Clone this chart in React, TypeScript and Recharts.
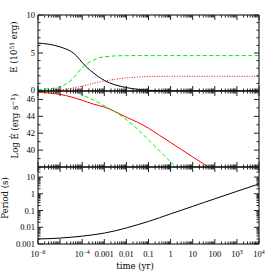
import React from 'react';
import { LineChart, Line, XAxis, YAxis } from 'recharts';

const W = 274;
const H = 274;
const FONT = 'DejaVu Serif';
const TICK_FONT = 'Liberation Serif';
const TICK_SIZE = 8.5;
const PLOT_LEFT = 38;
const PLOT_RIGHT = 259;

// ---- X axis (time, yr) ----
const xMajorTicks = [1e-6, 1e-5, 1e-4, 1e-3, 1e-2, 0.1, 1, 10, 100, 1e3, 1e4];
const xTickLabels = ['10^−6', '', '10^−4', '0.001', '0.01', '0.1', '1', '10', '100', '10^3', '10^4'];
const minorMult = [2, 3, 4, 5, 6, 7, 8, 9];
const xAllTicks: number[] = [];
xMajorTicks.forEach((m, i) => {
  xAllTicks.push(m);
  if (i < xMajorTicks.length - 1) minorMult.forEach((k) => xAllTicks.push(m * k));
});

// ---- Panel 1: energies (10^51 erg) ----
const tE = [1e-6, 3.16e-6, 1e-5, 1.78e-5, 3.16e-5, 5.62e-5, 1e-4, 1.78e-4, 3.16e-4, 5.62e-4, 1e-3, 1.78e-3, 3.16e-3, 1e-2, 3.16e-2, 0.1, 0.316, 1, 10, 100, 1000, 1e4];
const eRot = [6.3, 6.15, 5.8, 5.55, 5.2, 4.6, 3.75, 3.0, 2.4, 1.85, 1.4, 1.05, 0.8, 0.45, 0.22, 0.09, 0.03, 0.01, 0, 0, 0, 0];
const eKin = [0.2, 0.3, 0.55, 0.9, 1.4, 2.2, 3.1, 3.65, 4.05, 4.35, 4.5, 4.57, 4.62, 4.65, 4.66, 4.66, 4.66, 4.66, 4.66, 4.66, 4.66, 4.66];
const eRad = [0.02, 0.06, 0.15, 0.24, 0.35, 0.5, 0.65, 0.83, 1.0, 1.16, 1.3, 1.43, 1.55, 1.72, 1.83, 1.9, 1.93, 1.94, 1.94, 1.94, 1.94, 1.94];
const eTicks = [0, 1, 2, 3, 4, 5, 6, 7, 8, 9, 10];
const eLabels = [0, 5, 10];

// ---- Panel 2: log Edot (erg/s) ----
const tL = [1e-6, 3.16e-6, 1e-5, 3.16e-5, 1e-4, 3.16e-4, 1e-3, 3.16e-3, 1e-2, 3.16e-2, 0.1, 0.316, 1, 3.16, 10, 31.6, 100];
const lumRed = [46.85, 46.77, 46.6, 46.3, 45.9, 45.45, 45.1, 44.55, 43.9, 43.3, 42.6, 41.75, 40.9, 40.05, 39.2, 38.35, 37.5];
const lumGreen = [49.1, 48.5, 47.9, 47.25, 46.55, 45.95, 45.25, 44.5, 43.6, 42.5, 41.2, 39.9, 38.6, 37.3, 36.0, 34.7, 33.4];
const lTicks = [38, 39, 40, 41, 42, 43, 44, 45, 46, 47];
const lLabels = [40, 42, 44, 46];

// ---- Panel 3: period (s) ----
const tP = [1e-6, 3.16e-6, 1e-5, 3.16e-5, 1e-4, 3.16e-4, 1e-3, 3.16e-3, 1e-2, 3.16e-2, 0.1, 0.316, 1, 3.16, 10, 31.6, 100, 316, 1000, 3160, 1e4];
const period = [0.002, 0.00209, 0.00226, 0.00254, 0.00295, 0.00355, 0.00447, 0.00617, 0.00912, 0.0141, 0.0224, 0.0372, 0.0631, 0.106, 0.178, 0.299, 0.501, 0.841, 1.41, 2.34, 3.89];
const pMajor = [0.001, 0.01, 0.1, 1, 10];
const pLabels = ['0.001', '0.01', '0.1', '1', '10'];
const pTicks: number[] = [];
pMajor.forEach((m) => {
  pTicks.push(m);
  minorMult.forEach((k) => {
    if (m * k <= 40) pTicks.push(m * k);
  });
});

const zip = (t: number[], v: number[]) => t.map((tt, i) => ({ t: tt, v: v[i] }));

const isLogMajor = (v: number) => {
  const lg = Math.log10(v);
  return Math.abs(lg - Math.round(lg)) < 1e-6;
};

const renderSup = (s: string, size: number) => {
  if (s.includes('^')) {
    const [b, e] = s.split('^');
    return [
      <tspan key="b">{b}</tspan>,
      <tspan key="e" dy={-3.5} fontSize={size * 0.7}>{e}</tspan>,
    ];
  }
  return s;
};

const XTick = (props: any) => {
  const { x, y, payload, side, labels } = props;
  const v = payload.value;
  const major = isLogMajor(v);
  const len = major ? 5 : 2.5;
  const dir = side === 'bottom' ? -1 : 1;
  let label: any = null;
  if (labels && major) {
    const idx = xMajorTicks.findIndex((m) => Math.abs(Math.log10(m) - Math.log10(v)) < 1e-6);
    const s = idx >= 0 ? xTickLabels[idx] : '';
    if (s) {
      label = (
        <text x={x} y={y + 13} textAnchor="middle" fontFamily={TICK_FONT} fontSize={TICK_SIZE} fill="#000">
          {renderSup(s, TICK_SIZE)}
        </text>
      );
    }
  }
  return (
    <g>
      <line x1={x} x2={x} y1={y} y2={y + dir * len} stroke="#222" strokeWidth={1} />
      {label}
    </g>
  );
};

const YTick = (props: any) => {
  const { x, y, payload, side, mode, labelVals, labelTexts, shiftBottom } = props;
  const v = payload.value;
  let major = false;
  let text = '';
  if (mode === 'log') {
    major = isLogMajor(v);
    if (major) {
      const idx = labelVals.findIndex((m: number) => Math.abs(Math.log10(m) - Math.log10(v)) < 1e-6);
      text = idx >= 0 ? labelTexts[idx] : '';
    }
  } else {
    const idx = labelVals.findIndex((m: number) => Math.abs(m - v) < 1e-9);
    major = idx >= 0;
    text = major ? labelTexts[idx] : '';
  }
  const len = major ? 5 : 2.5;
  const dir = side === 'left' ? 1 : -1;
  const isBottomLabel = shiftBottom && Math.abs(v - labelVals[0]) < 1e-9;
  return (
    <g>
      <line x1={x} x2={x + dir * len} y1={y} y2={y} stroke="#222" strokeWidth={1} />
      {side === 'left' && text ? (
        <text x={x - 3} y={y + (isBottomLabel ? 1.5 : 3)} textAnchor="end" fontFamily={TICK_FONT} fontSize={TICK_SIZE} fill="#000">
          {text}
        </text>
      ) : null}
    </g>
  );
};

type Series = { data: { t: number; v: number }[]; color: string; dash?: string };

function Panel(p: {
  top: number;
  bottom: number;
  yDomain: [number, number];
  yScale: 'linear' | 'log';
  yTicks: number[];
  labelVals: number[];
  labelTexts: string[];
  series: Series[];
  xLabels: boolean;
  shiftBottom?: boolean;
}) {
  const axisCommon = {
    type: 'number' as const,
    scale: 'log' as const,
    domain: [1e-6, 1e4],
    allowDataOverflow: true,
    ticks: xAllTicks,
    interval: 0 as const,
    height: 1,
    tickSize: 0,
    tickMargin: 0,
    tickLine: false,
    axisLine: { stroke: '#000', strokeWidth: 1 },
  };
  const yCommon = {
    type: 'number' as const,
    scale: p.yScale,
    domain: p.yDomain,
    allowDataOverflow: true,
    ticks: p.yTicks,
    interval: 0 as const,
    tickSize: 0,
    tickMargin: 0,
    tickLine: false,
    axisLine: { stroke: '#000', strokeWidth: 1 },
  };
  return (
    <div style={{ position: 'absolute', left: 0, top: 0, width: W, height: H }}>
      <LineChart
        width={W}
        height={H}
        margin={{ top: p.top - 1, bottom: H - p.bottom - 1, left: 0, right: 0 }}
      >
        <XAxis xAxisId="b" dataKey="t" orientation="bottom" {...axisCommon} tick={<XTick side="bottom" labels={p.xLabels} />} />
        <XAxis xAxisId="t" dataKey="t" orientation="top" {...axisCommon} tick={<XTick side="top" labels={false} />} />
        <YAxis
          yAxisId="l"
          orientation="left"
          width={PLOT_LEFT}
          {...yCommon}
          tick={<YTick side="left" mode={p.yScale} labelVals={p.labelVals} labelTexts={p.labelTexts} shiftBottom={p.shiftBottom} />}
        />
        <YAxis
          yAxisId="r"
          orientation="right"
          width={W - PLOT_RIGHT}
          {...yCommon}
          tick={<YTick side="right" mode={p.yScale} labelVals={p.labelVals} labelTexts={p.labelTexts} />}
        />
        {p.series.map((s, i) => (
          <Line
            key={i}
            xAxisId="b"
            yAxisId="l"
            data={s.data}
            dataKey="v"
            type="monotone"
            stroke={s.color}
            strokeWidth={1}
            strokeDasharray={s.dash}
            dot={false}
            activeDot={false}
            isAnimationActive={false}
          />
        ))}
      </LineChart>
    </div>
  );
}

export default function App() {
  return (
    <div style={{ position: 'absolute', left: 0, top: 0, width: W, height: H, background: '#fff' }}>
      <Panel
        top={15}
        bottom={91}
        yDomain={[0, 10]}
        yScale="linear"
        yTicks={eTicks}
        labelVals={eLabels}
        labelTexts={eLabels.map(String)}
        xLabels={false}
        shiftBottom={true}
        series={[
          { data: zip(tE, eRot), color: '#000' },
          { data: zip(tE, eKin), color: '#00f000', dash: '4 2.5' },
          { data: zip(tE, eRad), color: '#ff0000', dash: '1 1.5' },
        ]}
      />
      <Panel
        top={91}
        bottom={167}
        yDomain={[38, 47]}
        yScale="linear"
        yTicks={lTicks}
        labelVals={lLabels}
        labelTexts={lLabels.map(String)}
        xLabels={false}
        series={[
          { data: zip(tL, lumRed), color: '#ff0000' },
          { data: zip(tL, lumGreen), color: '#00f000', dash: '4 2.5' },
        ]}
      />
      <Panel
        top={167}
        bottom={244}
        yDomain={[0.001, 40]}
        yScale="log"
        yTicks={pTicks}
        labelVals={pMajor}
        labelTexts={pLabels}
        xLabels={true}
        series={[{ data: zip(tP, period), color: '#000' }]}
      />
      <svg width={W} height={H} style={{ position: 'absolute', left: 0, top: 0, pointerEvents: 'none' }}>
        <text transform="translate(17,47) rotate(-90)" textAnchor="middle" fontFamily={FONT} fontSize={8.5} fill="#000">
          <tspan>E (10</tspan>
          <tspan dy={-3.5} fontSize={6}>51</tspan>
          <tspan dy={3.5}> erg)</tspan>
        </text>
        <text transform="translate(18,126) rotate(-90)" textAnchor="middle" fontFamily={FONT} fontSize={8.5} fill="#000">
          <tspan>Log Ė (erg s</tspan>
          <tspan dy={-3.5} fontSize={6}>−1</tspan>
          <tspan dy={3.5}>)</tspan>
        </text>
        <text transform="translate(7.5,198) rotate(-90)" textAnchor="middle" fontFamily={FONT} fontSize={8.5} fill="#000">
          Period (s)
        </text>
        <text x={135} y={269} textAnchor="middle" fontFamily={FONT} fontSize={8.5} fill="#000">
          time (yr)
        </text>
      </svg>
    </div>
  );
}
